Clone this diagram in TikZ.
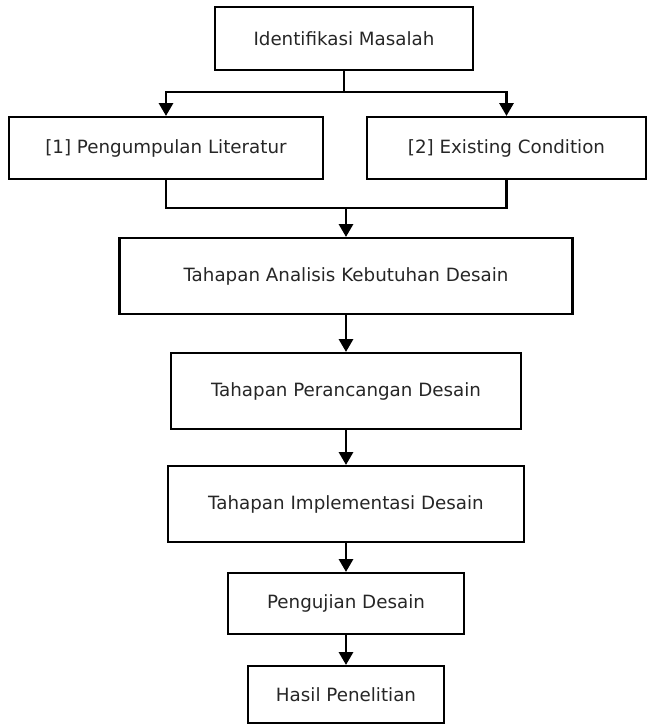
\documentclass[tikz,border=0pt]{standalone}
\usepackage{fontspec}
\setmainfont{DejaVu Sans}
\usetikzlibrary{arrows.meta}
\tikzset{
  stagebox/.style={draw, line width=1.6pt, inner sep=0pt, align=center,
    text=black!85, font=\fontsize{13}{15}\selectfont},
  flowline/.style={line width=1.6pt},
  flowarrow/.style={line width=1.6pt, -{Triangle[width=10pt,length=9pt]}}
}
\begin{document}
\begin{tikzpicture}
  \useasboundingbox (0,0) rectangle (16.175,-18.2);

  % Boxes of the research steps
  \node [stagebox, minimum width=6.45cm, minimum height=1.575cm] (ident) at (8.6,-0.9625) {Identifikasi Masalah};
  \node [stagebox, minimum width=7.85cm, minimum height=1.55cm] (literatur) at (4.15,-3.7) {[1] Pengumpulan Literatur};
  \node [stagebox, minimum width=6.975cm, minimum height=1.55cm] (existing) at (12.6625,-3.7) {[2] Existing Condition};
  \node [stagebox, minimum width=11.325cm, minimum height=1.9cm] (analisis) at (8.65,-6.9) {Tahapan Analisis Kebutuhan Desain};
  \node [stagebox, minimum width=8.75cm, minimum height=1.9cm] (perancangan) at (8.65,-9.775) {Tahapan Perancangan Desain};
  \node [stagebox, minimum width=8.9cm, minimum height=1.9cm] (implementasi) at (8.65,-12.6) {Tahapan Implementasi Desain};
  \node [stagebox, minimum width=5.9cm, minimum height=1.525cm] (pengujian) at (8.65,-15.0875) {Pengujian Desain};
  \node [stagebox, minimum width=4.9cm, minimum height=1.425cm] (hasil) at (8.65,-17.3625) {Hasil Penelitian};

  % Split from the problem to both sources
  \coordinate (split) at (8.6,-2.3);
  \draw [flowline] (ident.south) -- (split);
  \draw [flowarrow] (split) -| (literatur.north);
  \draw [flowarrow] (split) -| (existing.north);

  % Merge of both sources
  \coordinate (merge) at (8.65,-5.2);
  \draw [flowline] (literatur.south) |- (merge) -| (existing.south);
  \draw [flowarrow] (merge) -- (analisis.north);

  % Chain of the design stages
  \draw [flowarrow] (analisis) -- (perancangan);
  \draw [flowarrow] (perancangan) -- (implementasi);
  \draw [flowarrow] (implementasi) -- (pengujian);
  \draw [flowarrow] (pengujian) -- (hasil);
\end{tikzpicture}
\end{document}
